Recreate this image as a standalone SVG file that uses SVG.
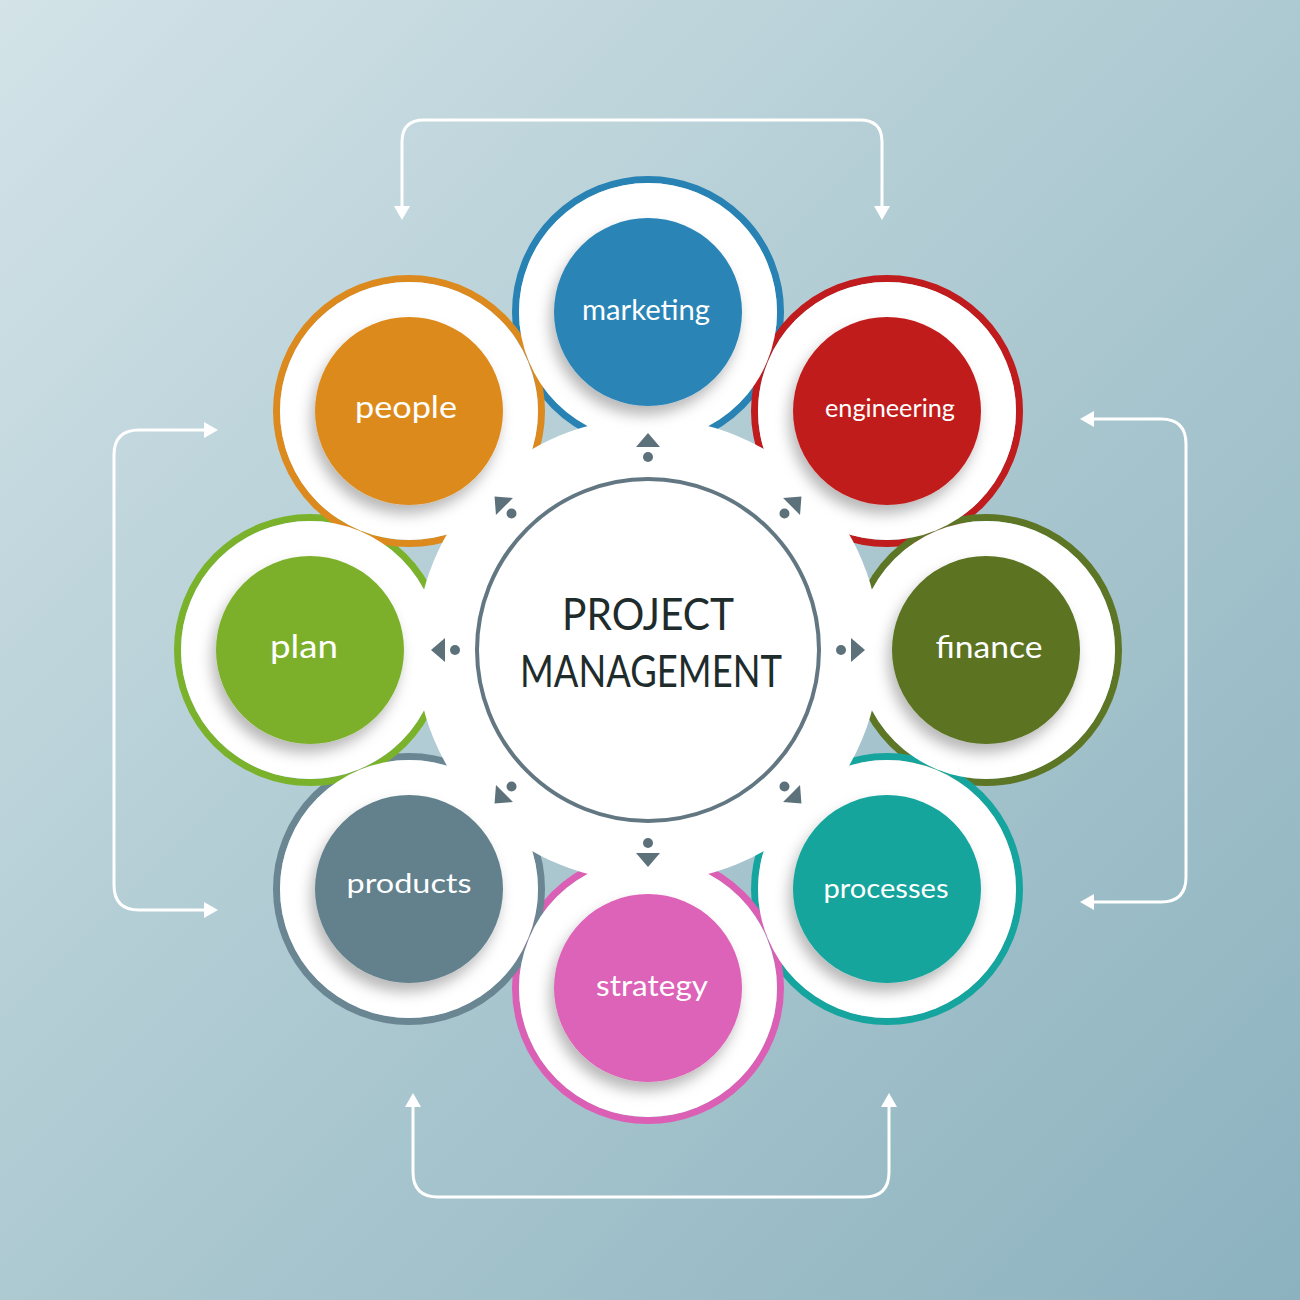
<svg xmlns="http://www.w3.org/2000/svg" xmlns:xlink="http://www.w3.org/1999/xlink" width="1300" height="1300" viewBox="0 0 1300 1300">
  <defs>
    <linearGradient id="bg" x1="0" y1="0" x2="1" y2="1">
      <stop offset="0" stop-color="#d3e3e8"/>
      <stop offset="0.5" stop-color="#adc9d1"/>
      <stop offset="1" stop-color="#8cb2bf"/>
    </linearGradient>
    <filter id="shadow" x="-30%" y="-30%" width="160%" height="170%">
      <feDropShadow dx="-4" dy="9" stdDeviation="7" flood-color="#000" flood-opacity="0.28"/>
    </filter>
    <marker id="arrow" viewBox="0 0 14 16" refX="2" refY="8" markerWidth="14" markerHeight="16" markerUnits="userSpaceOnUse" orient="auto-start-reverse">
      <path d="M0,0 L14,8 L0,16 Z" fill="#ffffff"/>
    </marker>
    <g id="pointer" fill="#5d717b">
      <circle cx="648" cy="457" r="5"/>
      <path d="M648 433 L660 447 L636 447 Z"/>
    </g>
    <style>
      .ring { fill: none; stroke-width: 7; }
      .ringfill { fill: #ffffff; }
      .disk { filter: url(#shadow); }
      .lbl { font-family: Lato, "Liberation Sans", sans-serif; fill: #ffffff; text-anchor: middle; }
      .title { font-family: Lato, "Liberation Sans", sans-serif; fill: #1f2c2c; text-anchor: middle; font-size: 44px; }
      .conn { fill: none; stroke: #ffffff; stroke-width: 3; marker-start: url(#arrow); marker-end: url(#arrow); }
    </style>
  </defs>

  <rect x="0" y="0" width="1300" height="1300" fill="url(#bg)"/>

  <g id="connectors">
    <path class="conn" d="M402 208 V142 Q402 120 424 120 H860 Q882 120 882 142 V208"/>
    <path class="conn" d="M206 430 H139 Q114 430 114 455 V885 Q114 910 139 910 H206"/>
    <path class="conn" d="M1092 419 H1161 Q1186 419 1186 444 V877 Q1186 902 1161 902 H1092"/>
    <path class="conn" d="M413 1105 V1172 Q413 1197 438 1197 H864 Q889 1197 889 1172 V1105"/>
  </g>

  <g id="ring-outlines">
    <circle class="ring" cx="648" cy="312" r="132.5" stroke="#2882b3"/>
    <circle class="ring" cx="887" cy="411" r="132.5" stroke="#c01b1d"/>
    <circle class="ring" cx="986" cy="650" r="132.5" stroke="#5c7625"/>
    <circle class="ring" cx="887" cy="889" r="132.5" stroke="#16a59e"/>
    <circle class="ring" cx="648" cy="988" r="132.5" stroke="#dc5fb6"/>
    <circle class="ring" cx="409" cy="889" r="132.5" stroke="#6a8692"/>
    <circle class="ring" cx="310" cy="650" r="132.5" stroke="#7ab22c"/>
    <circle class="ring" cx="409" cy="411" r="132.5" stroke="#dc891e"/>
  </g>
  <g id="ring-fills">
    <circle class="ringfill" cx="648" cy="312" r="129"/>
    <circle class="ringfill" cx="887" cy="411" r="129"/>
    <circle class="ringfill" cx="986" cy="650" r="129"/>
    <circle class="ringfill" cx="887" cy="889" r="129"/>
    <circle class="ringfill" cx="648" cy="988" r="129"/>
    <circle class="ringfill" cx="409" cy="889" r="129"/>
    <circle class="ringfill" cx="310" cy="650" r="129"/>
    <circle class="ringfill" cx="409" cy="411" r="129"/>
  </g>

  <g id="center">
    <circle cx="648" cy="650" r="232" fill="#ffffff"/>
    <circle cx="648" cy="650" r="171" fill="#ffffff" stroke="#627782" stroke-width="4"/>
    <text class="title" x="648" y="630" textLength="172" lengthAdjust="spacingAndGlyphs">PROJECT</text>
    <text class="title" x="651" y="687" textLength="262" lengthAdjust="spacingAndGlyphs">MANAGEMENT</text>
    <use xlink:href="#pointer"/>
    <use xlink:href="#pointer" transform="rotate(45 648 650)"/>
    <use xlink:href="#pointer" transform="rotate(90 648 650)"/>
    <use xlink:href="#pointer" transform="rotate(135 648 650)"/>
    <use xlink:href="#pointer" transform="rotate(180 648 650)"/>
    <use xlink:href="#pointer" transform="rotate(225 648 650)"/>
    <use xlink:href="#pointer" transform="rotate(270 648 650)"/>
    <use xlink:href="#pointer" transform="rotate(315 648 650)"/>
  </g>

  <g id="node-marketing">
    <circle class="disk" cx="648" cy="312" r="94" fill="#2a85b6"/>
    <text class="lbl" x="646" y="320" font-size="29" textLength="128" lengthAdjust="spacingAndGlyphs">marketing</text>
  </g>
  <g id="node-engineering">
    <circle class="disk" cx="887" cy="411" r="94" fill="#c11f1f"/>
    <text class="lbl" x="890" y="417" font-size="25" textLength="130" lengthAdjust="spacingAndGlyphs">engineering</text>
  </g>
  <g id="node-finance">
    <circle class="disk" cx="986" cy="650" r="94" fill="#5b7324"/>
    <text class="lbl" x="989" y="658" font-size="30" textLength="107" lengthAdjust="spacingAndGlyphs">finance</text>
  </g>
  <g id="node-processes">
    <circle class="disk" cx="887" cy="889" r="94" fill="#13a59c"/>
    <text class="lbl" x="886" y="898" font-size="26" textLength="125" lengthAdjust="spacingAndGlyphs">processes</text>
  </g>
  <g id="node-strategy">
    <circle class="disk" cx="648" cy="988" r="94" fill="#dc63b8"/>
    <text class="lbl" x="652" y="996" font-size="28" textLength="112" lengthAdjust="spacingAndGlyphs">strategy</text>
  </g>
  <g id="node-products">
    <circle class="disk" cx="409" cy="889" r="94" fill="#62818d"/>
    <text class="lbl" x="409" y="893" font-size="27" textLength="125" lengthAdjust="spacingAndGlyphs">products</text>
  </g>
  <g id="node-plan">
    <circle class="disk" cx="310" cy="650" r="94" fill="#7cb02b"/>
    <text class="lbl" x="304" y="658" font-size="32" textLength="68" lengthAdjust="spacingAndGlyphs">plan</text>
  </g>
  <g id="node-people">
    <circle class="disk" cx="409" cy="411" r="94" fill="#dd8a1c"/>
    <text class="lbl" x="406" y="418" font-size="31" textLength="102" lengthAdjust="spacingAndGlyphs">people</text>
  </g>
</svg>
